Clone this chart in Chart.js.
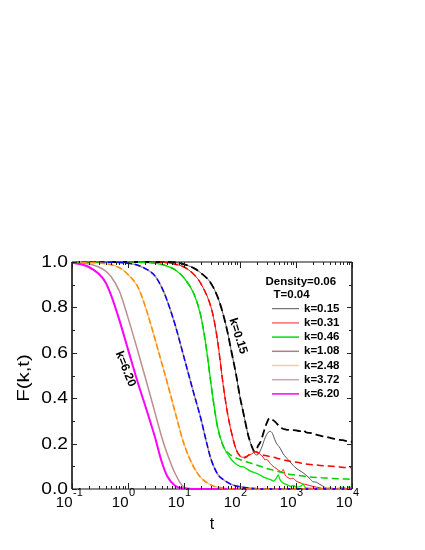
<!DOCTYPE html>
<html>
<head>
<meta charset="utf-8">
<script src="https://cdn.jsdelivr.net/npm/chart.js@4.4.1/dist/chart.umd.min.js"></script>
<style>
    html, body { margin: 0; padding: 0; background: #fff; }
    #wrap { width: 425px; height: 550px; }
</style>
</head>
<body>
<div id="wrap"><canvas id="grafico" width="425" height="550"></canvas></div>
<script>
// --- DATOS ---
const infoLines = ['Density=0.06', 'T=0.04'];
const kLabels = ['k=0.15', 'k=0.31', 'k=0.46', 'k=1.08', 'k=2.48', 'k=3.72', 'k=6.20'];
const yTicks = [0, 0.2, 0.4, 0.6, 0.8, 1.0];
const yTickLabels = ['0.0', '0.2', '0.4', '0.6', '0.8', '1.0'];
const yMinorTicks = [0.1, 0.3, 0.5, 0.7, 0.9];
const xTicks = [0.1, 1, 10, 100, 1000, 10000];
const xTickExponents = ['-1', '0', '1', '2', '3', '4'];

// k = 0.15 (negro)
const tK015 = [0.1, 1, 5, 7, 10, 15, 20, 30, 40, 50, 60, 70, 85, 100, 115, 140, 150, 165];
const fK015 = [1, 1, 1, 0.998, 0.99, 0.973, 0.952, 0.908, 0.845, 0.77, 0.69, 0.608, 0.505, 0.405, 0.335, 0.237, 0.212, 0.183];
const tK015DashTail = [180, 195, 210, 230, 250, 280, 300, 335, 380, 430, 480, 560, 660, 780, 1000, 1180, 1330, 1500, 1780, 2000, 2300, 2700, 3000, 3400, 4000, 4600, 5200, 6100, 6900, 7800, 8800, 10000];
const fK015DashTail = [0.168, 0.172, 0.19, 0.205, 0.23, 0.27, 0.29, 0.312, 0.305, 0.295, 0.282, 0.268, 0.262, 0.26, 0.258, 0.255, 0.26, 0.25, 0.247, 0.245, 0.24, 0.235, 0.232, 0.23, 0.226, 0.222, 0.22, 0.216, 0.215, 0.212, 0.21, 0.208];
const tK015SolidTail = [180, 195, 210, 230, 250, 280, 320, 345, 380, 400, 440, 520, 590, 660, 780, 880, 1000, 1180, 1330, 1500, 1780, 2000, 2300, 2600, 3000, 3400, 4000, 10000];
const fK015SolidTail = [0.158, 0.15, 0.152, 0.168, 0.19, 0.225, 0.25, 0.254, 0.245, 0.23, 0.205, 0.18, 0.155, 0.14, 0.12, 0.105, 0.092, 0.08, 0.072, 0.062, 0.045, 0.032, 0.03, 0.022, 0.013, 0.005, 0, 0];

// k = 0.31 (rojo)
const tK031 = [0.1, 3, 5, 7, 10, 15, 20, 30, 35, 40, 45, 50, 60, 70, 85, 100];
const fK031 = [1, 1, 0.997, 0.99, 0.978, 0.945, 0.905, 0.805, 0.735, 0.648, 0.55, 0.46, 0.332, 0.252, 0.175, 0.145];
const tK031DashTail = [115, 130, 150, 170, 195, 220, 250, 300, 390, 520, 660, 880, 1200, 1500, 2000, 2700, 3400, 4600, 6100, 7800, 10000];
const fK031DashTail = [0.137, 0.14, 0.155, 0.165, 0.163, 0.155, 0.15, 0.146, 0.14, 0.132, 0.126, 0.12, 0.115, 0.11, 0.107, 0.104, 0.102, 0.1, 0.097, 0.095, 0.095];
const tK031SolidTail = [115, 130, 150, 170, 195, 210, 230, 260, 280, 300, 345, 390, 440, 490, 560, 590, 640, 720, 800, 880, 1000, 1180, 1330, 1500, 1780, 2100, 2600, 3300, 10000];
const fK031SolidTail = [0.14, 0.145, 0.15, 0.158, 0.165, 0.162, 0.152, 0.14, 0.128, 0.13, 0.113, 0.1, 0.091, 0.082, 0.076, 0.086, 0.062, 0.05, 0.045, 0.048, 0.035, 0.028, 0.022, 0.02, 0.015, 0.01, 0.006, 0, 0];

// k = 0.46 (verde)
const tK046 = [0.1, 1, 2, 3, 5, 7, 10, 15, 20, 25, 30, 35, 40, 50];
const fK046 = [1, 1, 0.998, 0.995, 0.982, 0.965, 0.93, 0.86, 0.762, 0.622, 0.472, 0.354, 0.27, 0.19];
const tK046DashTail = [70, 100, 130, 165, 230, 300, 390, 520, 660, 880, 1200, 1500, 2000, 2700, 3400, 4600, 6100, 7800, 10000];
const fK046DashTail = [0.148, 0.13, 0.12, 0.112, 0.1, 0.09, 0.083, 0.075, 0.068, 0.063, 0.058, 0.055, 0.052, 0.05, 0.048, 0.046, 0.045, 0.044, 0.043];
const tK046SolidTail = [70, 85, 100, 115, 130, 150, 180, 210, 250, 280, 320, 360, 400, 450, 480, 520, 590, 700, 800, 900, 1000, 1200, 1330, 1500, 2000, 3000, 4000, 5000, 7000, 8000, 9000, 10000];
const fK046SolidTail = [0.13, 0.11, 0.1, 0.097, 0.09, 0.08, 0.072, 0.066, 0.056, 0.05, 0.045, 0.04, 0.035, 0.05, 0.062, 0.04, 0.026, 0.018, 0.012, 0.016, 0.008, 0.012, 0.02, 0.005, 0.003, 0, 0.005, 0, 0.008, 0, 0.01, 0];

// k = 1.08 (azul)
const tK108 = [0.1, 0.5, 1, 1.5, 2, 3, 4, 5, 7, 10, 15, 20, 25, 30, 40, 50, 70, 100, 150, 200, 300, 10000];
const fK108 = [1, 0.999, 0.995, 0.986, 0.972, 0.94, 0.888, 0.83, 0.72, 0.58, 0.42, 0.31, 0.21, 0.135, 0.065, 0.042, 0.02, 0.01, 0.004, 0.001, 0, 0];

// k = 2.48 (naranja)
const tK248 = [0.1, 0.2, 0.3, 0.5, 0.7, 1, 1.5, 2, 3, 4, 5, 7, 10, 15, 20, 30, 40, 50, 70, 100, 10000];
const fK248 = [1, 0.998, 0.996, 0.988, 0.975, 0.945, 0.89, 0.81, 0.665, 0.555, 0.47, 0.335, 0.198, 0.095, 0.05, 0.018, 0.008, 0.004, 0.001, 0, 0];

// k = 3.72 y k = 6.20
const tK372 = [0.1, 0.15, 0.2, 0.3, 0.4, 0.5, 0.7, 1, 1.5, 2, 3, 4, 5, 7, 10, 15, 10000];
const fK372 = [0.999, 0.996, 0.991, 0.978, 0.96, 0.935, 0.872, 0.755, 0.607, 0.498, 0.341, 0.229, 0.156, 0.066, 0.008, 0, 0];
const tK620 = [0.1, 0.15, 0.2, 0.3, 0.4, 0.5, 0.7, 1, 1.5, 2, 3, 4, 5, 7, 10, 15, 10000];
const fK620 = [0.997, 0.989, 0.978, 0.948, 0.909, 0.853, 0.745, 0.615, 0.468, 0.372, 0.232, 0.12, 0.057, 0.013, 0.002, 0, 0];

// colores de la leyenda (como se ven en la figura)
const legendColors = ['#555555', '#ff6a6a', '#00e000', '#b08080', '#ffcc99', '#c8a8a8', '#ff00ff'];

// --- CONSTRUCCIÓN DE LAS SERIES ---
function serie(tArr, fArr, color, width, dash, order) {
    return {
        data: tArr.map((t, i) => ({ x: t, y: fArr[i] })),
        borderColor: color,
        borderWidth: width,
        borderDash: dash || [],
        pointRadius: 0,
        fill: false,
        cubicInterpolationMode: 'monotone',
        order: order,
        clip: 2
    };
}

const datasets = [
    serie(tK620, fK620, '#ff00ff', 2, null, 1),
    serie(tK372, fK372, '#bc8f8f', 1.5, null, 1),
    serie(tK248, fK248, '#ffc890', 1.5, null, 1),
    serie(tK248, fK248, '#ff8c00', 1.5, [6, 3], 0),
    serie(tK108, fK108, '#bc8f8f', 1.5, null, 1),
    serie(tK108, fK108, '#0000ff', 1.5, [6, 3], 0),
    serie(tK046.concat(tK046SolidTail), fK046.concat(fK046SolidTail), '#00e600', 1.3, null, 1),
    serie(tK046.concat(tK046DashTail), fK046.concat(fK046DashTail), '#00d000', 1.5, [7, 4], 0),
    serie(tK031.concat(tK031SolidTail), fK031.concat(fK031SolidTail), '#ff1010', 1, null, 1),
    serie(tK031.concat(tK031DashTail), fK031.concat(fK031DashTail), '#ff0000', 1.5, [7, 4], 0),
    serie(tK015.concat(tK015SolidTail), fK015.concat(fK015SolidTail), '#555555', 1, null, 1),
    serie(tK015.concat(tK015DashTail), fK015.concat(fK015DashTail), '#000000', 1.8, [8, 4], 0)
];

// texto estirado en la dirección de escritura
function textoEstirado(ctx, text, x, y, sx, angle) {
    ctx.save();
    ctx.translate(x, y);
    ctx.rotate(angle || 0);
    ctx.scale(sx, 1);
    ctx.fillText(text, 0, 0);
    ctx.restore();
}

// --- PLUGIN: marco, ticks, etiquetas y leyenda ---
const marcoPlugin = {
    id: 'marco',
    beforeDatasetsDraw(chart) {
        const { ctx, chartArea: a } = chart;
        ctx.save();
        ctx.lineWidth = 1.5;
        ctx.strokeStyle = '#000';
        ctx.beginPath();
        ctx.moveTo(a.left, a.top); ctx.lineTo(a.left, a.bottom);
        ctx.moveTo(a.right, a.top); ctx.lineTo(a.right, a.bottom);
        ctx.stroke();
        ctx.strokeStyle = '#888';
        ctx.lineWidth = 2;
        ctx.beginPath();
        ctx.moveTo(a.left, a.top); ctx.lineTo(a.right, a.top);
        ctx.moveTo(a.left, a.bottom); ctx.lineTo(a.right, a.bottom);
        ctx.stroke();
        ctx.restore();
    },
    afterDatasetsDraw(chart) {
        const { ctx, chartArea: a, scales: { x, y } } = chart;
        ctx.save();
        ctx.strokeStyle = '#222';
        ctx.lineWidth = 1;

        // ticks eje y (izquierda y derecha, hacia dentro)
        ctx.beginPath();
        yTicks.forEach(v => {
            const py = Math.round(y.getPixelForValue(v)) + 0.5;
            ctx.moveTo(a.left, py); ctx.lineTo(a.left + 5, py);
            ctx.moveTo(a.right, py); ctx.lineTo(a.right - 5, py);
        });
        yMinorTicks.forEach(v => {
            const py = Math.round(y.getPixelForValue(v)) + 0.5;
            ctx.moveTo(a.left, py); ctx.lineTo(a.left + 3, py);
            ctx.moveTo(a.right, py); ctx.lineTo(a.right - 3, py);
        });
        // ticks eje x (abajo y arriba)
        xTicks.forEach((v, i) => {
            const px = Math.round(x.getPixelForValue(v)) + 0.5;
            ctx.moveTo(px, a.bottom); ctx.lineTo(px, a.bottom - 6);
            ctx.moveTo(px, a.top); ctx.lineTo(px, a.top + 6);
            if (i < xTicks.length - 1) {
                for (let m = 2; m <= 9; m++) {
                    const pm = Math.round(x.getPixelForValue(v * m)) + 0.5;
                    ctx.moveTo(pm, a.bottom); ctx.lineTo(pm, a.bottom - 3);
                    ctx.moveTo(pm, a.top); ctx.lineTo(pm, a.top + 3);
                }
            }
        });
        ctx.stroke();

        ctx.fillStyle = '#000';
        // etiquetas eje y
        ctx.font = '16px "Liberation Sans", Arial, sans-serif';
        ctx.textAlign = 'right';
        ctx.textBaseline = 'middle';
        yTicks.forEach((v, i) => {
            textoEstirado(ctx, yTickLabels[i], 68, y.getPixelForValue(v) + 0.5, 1.2);
        });

        // etiquetas eje x: 10 con exponente
        ctx.textBaseline = 'alphabetic';
        xTicks.forEach((v, i) => {
            const px = x.getPixelForValue(v);
            ctx.font = '15px "Liberation Sans", Arial, sans-serif';
            ctx.textAlign = 'right';
            ctx.fillText('10', px + 0.5, 507);
            ctx.font = '11px "Liberation Sans", Arial, sans-serif';
            ctx.textAlign = 'left';
            ctx.fillText(xTickExponents[i], px + 1, 496);
        });

        // títulos de ejes
        ctx.font = '16px "Liberation Sans", Arial, sans-serif';
        ctx.textAlign = 'center';
        ctx.fillText('t', 212, 529);
        ctx.font = '17px "Liberation Sans", Arial, sans-serif';
        textoEstirado(ctx, 'F(k,t)', 28.5, 378, 1.2, -Math.PI / 2);

        // leyenda
        ctx.font = 'bold 11.5px "Liberation Sans", Arial, sans-serif';
        ctx.textAlign = 'left';
        ctx.textBaseline = 'middle';
        ctx.fillText(infoLines[0], 265.5, 282);
        ctx.fillText(infoLines[1], 273.5, 295.3);
        kLabels.forEach((lab, i) => {
            const ly = 308.7 + i * 14.2;
            ctx.strokeStyle = legendColors[i];
            ctx.lineWidth = (i === 0) ? 1 : 1.5;
            ctx.beginPath();
            ctx.moveTo(272, ly); ctx.lineTo(299, ly);
            ctx.stroke();
            ctx.fillText(lab, 304, ly);
        });

        // etiquetas giradas sobre las curvas
        ctx.font = 'bold 12px "Liberation Sans", Arial, sans-serif';
        ctx.textAlign = 'center';
        textoEstirado(ctx, kLabels[0], 238, 336, 1, 72 * Math.PI / 180);
        textoEstirado(ctx, kLabels[6], 125.5, 369, 1, 68 * Math.PI / 180);
        ctx.restore();
    }
};

document.addEventListener('DOMContentLoaded', () => {
    const ctx = document.getElementById('grafico').getContext('2d');
    new Chart(ctx, {
        type: 'line',
        data: { datasets: datasets },
        options: {
            responsive: false,
            devicePixelRatio: 1,
            animation: false,
            layout: { padding: { left: 72, right: 73, top: 262, bottom: 61 } },
            plugins: { legend: { display: false }, tooltip: { enabled: false } },
            scales: {
                x: { type: 'logarithmic', min: 0.1, max: 10000, display: false },
                y: { type: 'linear', min: 0, max: 1, display: false }
            }
        },
        plugins: [marcoPlugin]
    });
});
</script>
</body>
</html>
